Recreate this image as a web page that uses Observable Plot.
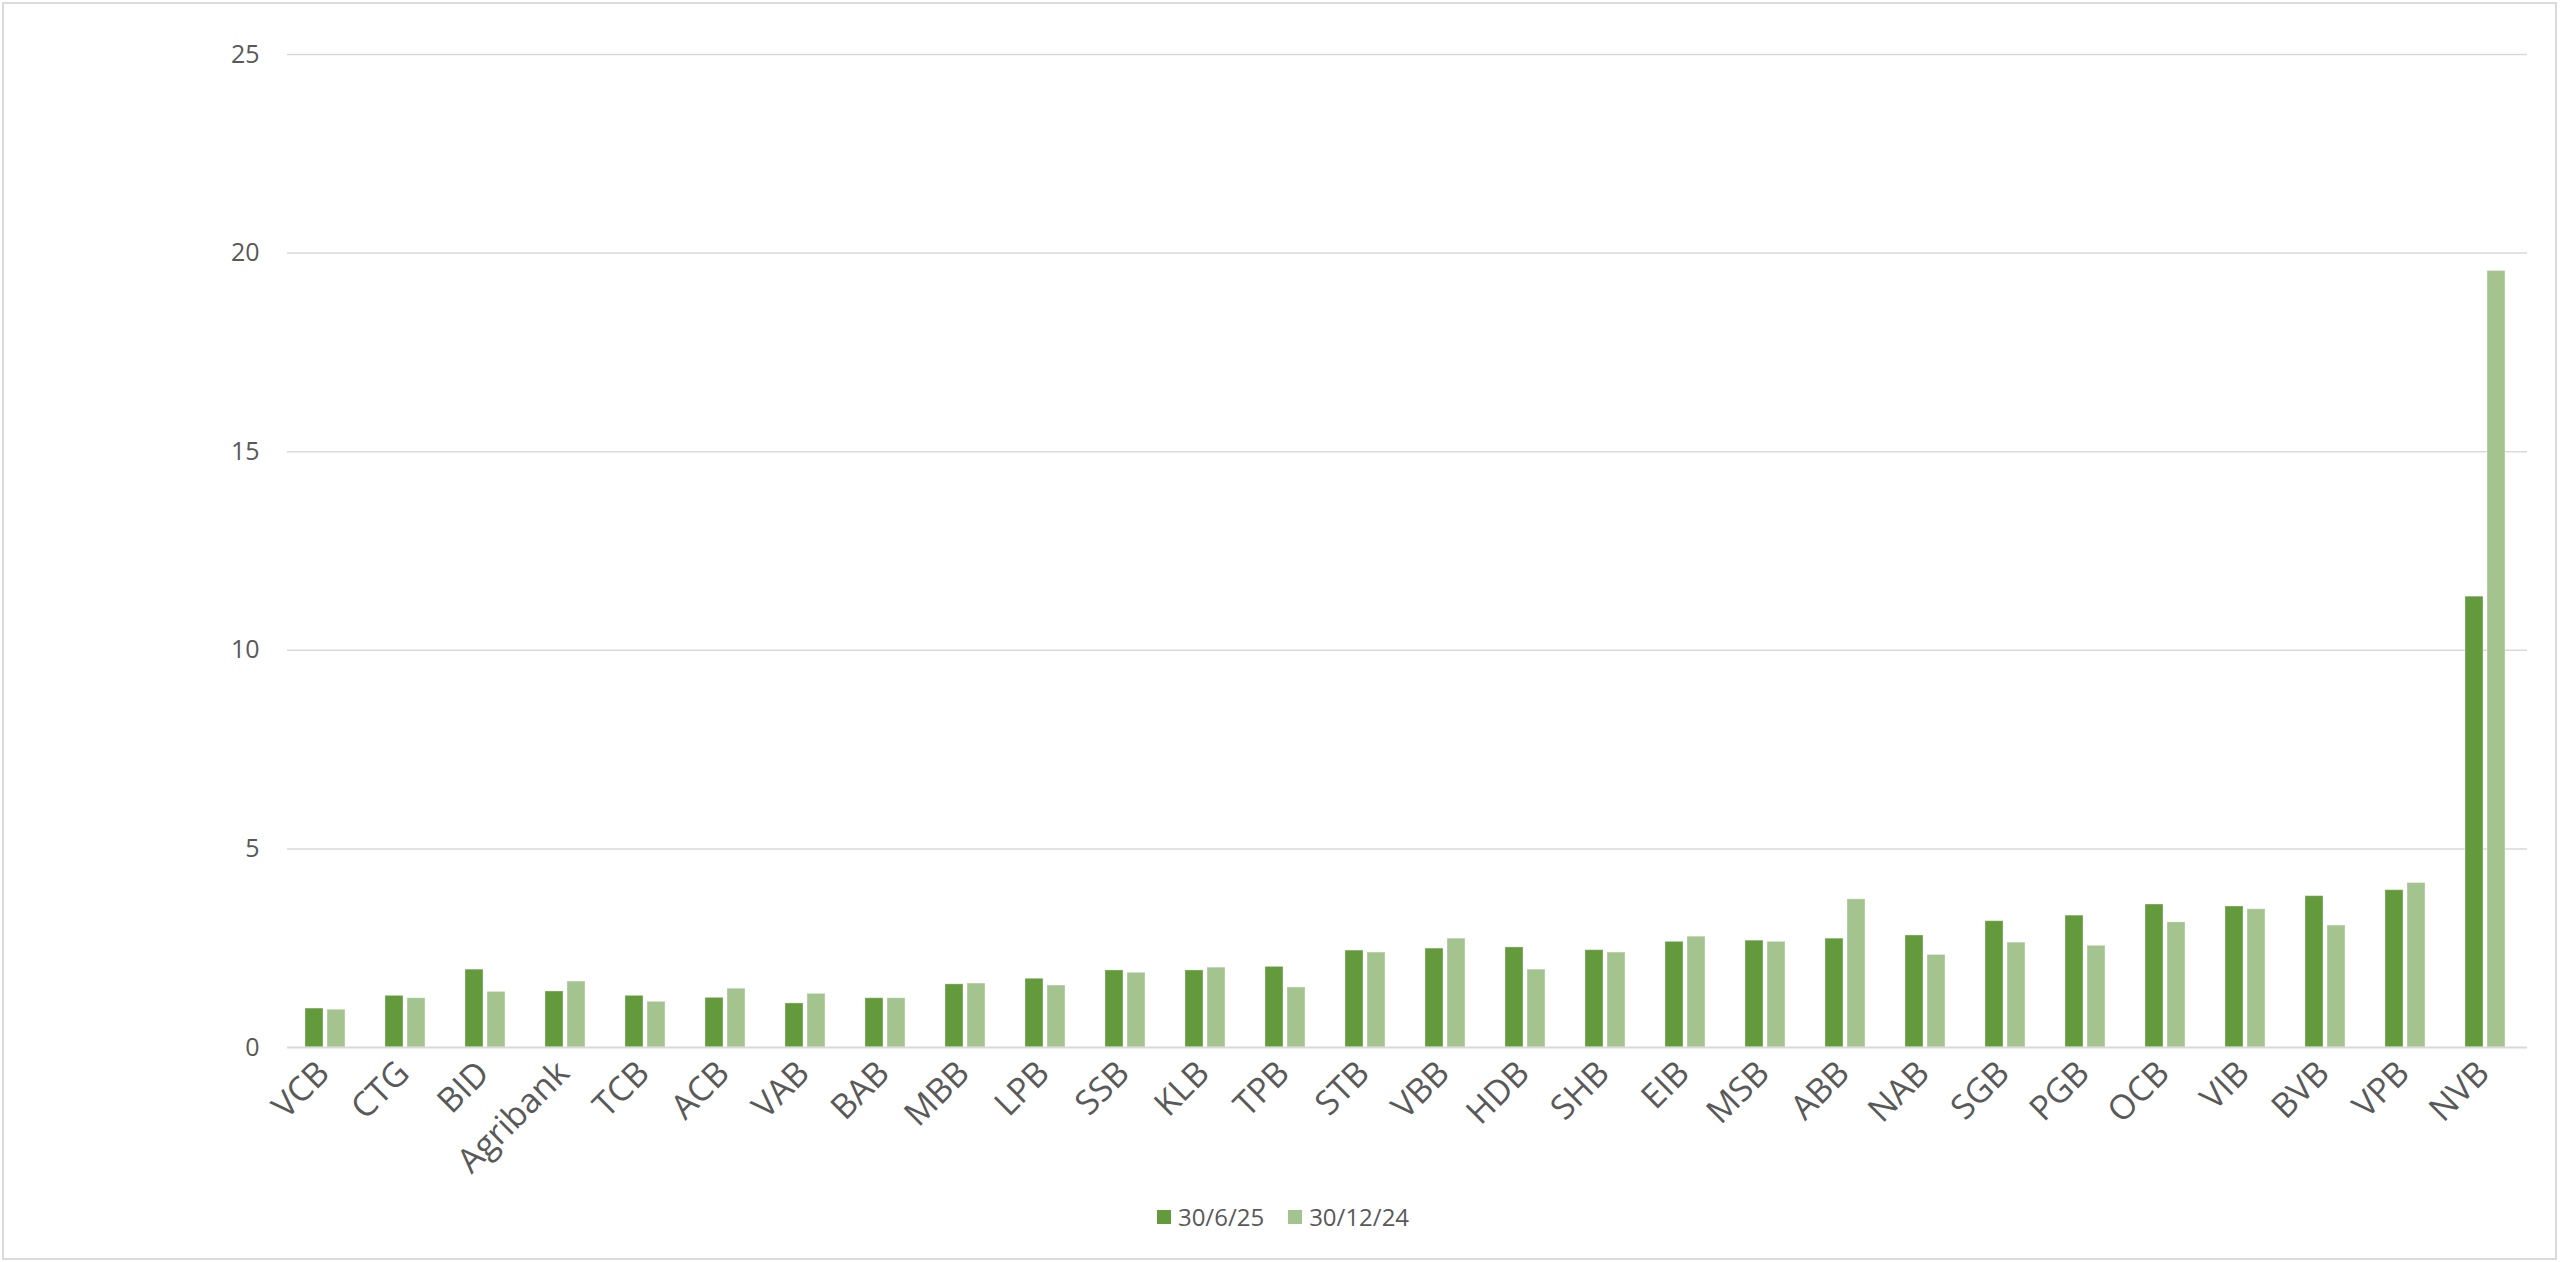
<!DOCTYPE html>
<html>
<head>
<meta charset="utf-8">
<script src="https://cdn.jsdelivr.net/npm/d3@7"></script>
<script src="https://cdn.jsdelivr.net/npm/@observablehq/plot@0.6"></script>
<style>
  html, body { margin: 0; padding: 0; background: #ffffff; }
  #wrap { position: relative; width: 2560px; height: 1262px; overflow: hidden; font-family: "Open Sans", sans-serif; }
  #frame { position: absolute; left: 2px; top: 2px; width: 2555px; height: 1258px; box-sizing: border-box; border: 2px solid #dadada; }
  #chart { position: absolute; left: 0; top: 0; }
  #legend { position: absolute; left: 0; top: 1199px; width: 2566px; text-align: center; font-size: 24px; color: #595959; line-height: 32px; }
  #legend .item { display: inline-flex; align-items: center; margin: 0 12px; }
  #legend .sw { display: inline-block; width: 14px; height: 14px; margin-right: 7px; }
</style>
</head>
<body>
<div id="wrap">
  <div id="frame"></div>
  <div id="chart"></div>
  <div id="legend"></div>
</div>
<script>
const banks = ["VCB","CTG","BID","Agribank","TCB","ACB","VAB","BAB","MBB","LPB","SSB","KLB","TPB","STB","VBB","HDB","SHB","EIB","MSB","ABB","NAB","SGB","PGB","OCB","VIB","BVB","VPB","NVB"];
const seriesNames = ["30/6/25", "30/12/24"];
const jun25 = [0.98,1.30,1.96,1.41,1.30,1.25,1.11,1.24,1.59,1.73,1.94,1.94,2.03,2.44,2.49,2.52,2.45,2.66,2.69,2.74,2.82,3.18,3.32,3.60,3.55,3.81,3.96,11.35];
const dec24 = [0.95,1.24,1.40,1.66,1.15,1.48,1.35,1.24,1.61,1.56,1.88,2.01,1.51,2.39,2.74,1.96,2.39,2.79,2.66,3.73,2.33,2.64,2.56,3.15,3.48,3.07,4.14,19.55];
const yTicks = [0, 5, 10, 15, 20, 25];
const colors = ["#639a3c", "#a3c48f"];

const data = banks.flatMap((b, i) => [
  {bank: b, series: seriesNames[0], value: jun25[i]},
  {bank: b, series: seriesNames[1], value: dec24[i]}
]);

const chart = Plot.plot({
  width: 2560,
  height: 1190,
  marginLeft: 281,
  marginRight: 28,
  marginTop: 54,
  marginBottom: 143,
  style: {fontFamily: "'Open Sans', sans-serif", color: "#595959", background: "transparent", overflow: "visible"},
  fx: {domain: banks, padding: 0, label: null, axis: null},
  x: {domain: seriesNames, paddingInner: 0.174, paddingOuter: 0.835, axis: null},
  y: {domain: [0, 25], label: null},
  color: {domain: seriesNames, range: colors},
  marks: [
    Plot.gridY(yTicks.filter(d => d > 0), {stroke: "#d9d9d9", strokeOpacity: 1, strokeWidth: 1.5}),
    Plot.barY(data, {fx: "bank", x: "series", y: "value", fill: "series", dx: -2, stroke: "#ffffff", strokeOpacity: 0.35, strokeWidth: 1}),
    Plot.ruleY([0], {stroke: "#d9d9d9", strokeWidth: 2}),
    Plot.axisY(yTicks, {tickSize: 0, tickPadding: 28, fontSize: 25, fill: "#595959", label: null}),
    Plot.axisFx({anchor: "bottom", tickRotate: -45, tickSize: 0, tickPadding: 20, dx: -4, fontSize: 34, fill: "#595959", label: null})
  ]
});
document.getElementById("chart").appendChild(chart);

const legend = document.getElementById("legend");
seriesNames.forEach((s, i) => {
  const item = document.createElement("span");
  item.className = "item";
  const sw = document.createElement("span");
  sw.className = "sw";
  sw.style.background = colors[i];
  const t = document.createElement("span");
  t.textContent = s;
  item.appendChild(sw);
  item.appendChild(t);
  legend.appendChild(item);
});
</script>
</body>
</html>
